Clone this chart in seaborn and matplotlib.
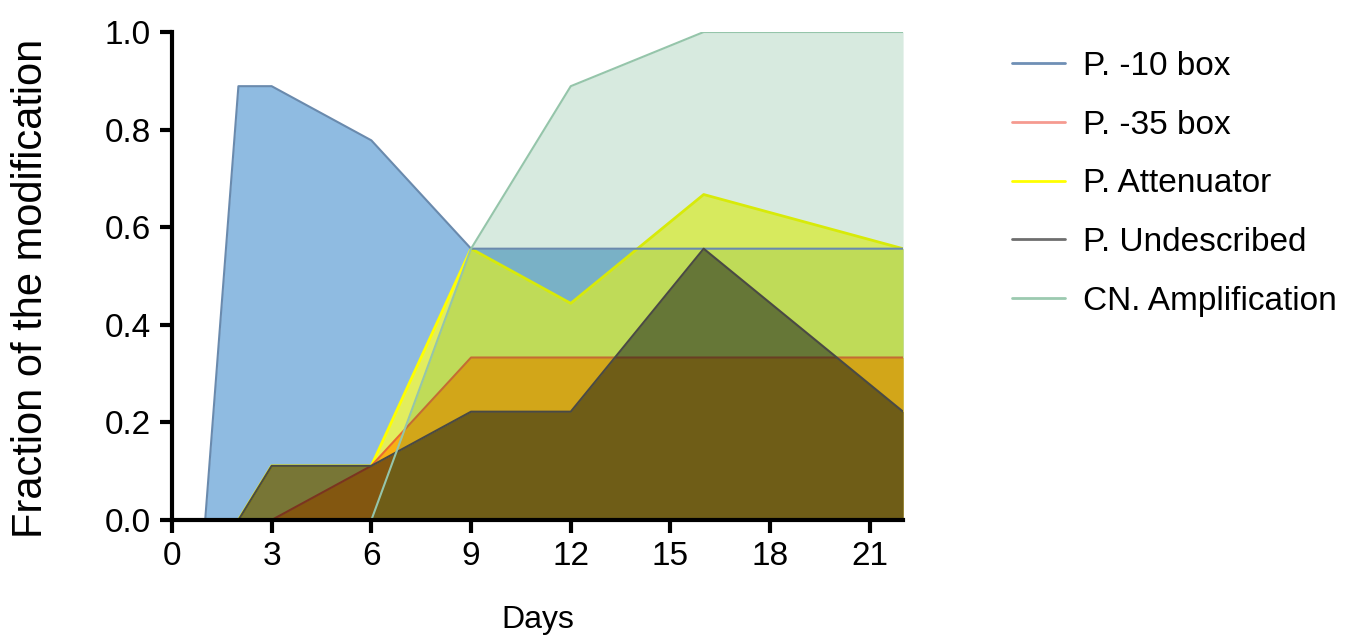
import seaborn as sns
import matplotlib.pyplot as plt
import pandas as pd
import numpy as np
from matplotlib.lines import Line2D
from matplotlib.ticker import FormatStrFormatter

# data (fractions of 9 samples)
days = [1, 2, 3, 6, 9, 12, 16, 22]
p10_box = [0.0, 0.889, 0.889, 0.778, 0.556, 0.556, 0.556, 0.556]
p35_box = [0.0, 0.0, 0.0, 0.111, 0.333, 0.333, 0.333, 0.333]
p_attenuator = [0.0, 0.0, 0.111, 0.111, 0.556, 0.444, 0.667, 0.556]
p_undescribed = [0.0, 0.0, 0.111, 0.111, 0.222, 0.222, 0.556, 0.222]
cn_amplification = [0.0, 0.0, 0.0, 0.0, 0.556, 0.889, 1.0, 1.0]

labels = ["P. -10 box", "P. -35 box", "P. Attenuator", "P. Undescribed", "CN. Amplification"]

df = pd.DataFrame({"Days": days, "P. -10 box": p10_box, "P. -35 box": p35_box,
                   "P. Attenuator": p_attenuator, "P. Undescribed": p_undescribed,
                   "CN. Amplification": cn_amplification})

sns.set_theme(style="ticks")
plt.rcParams['font.family'] = ['Liberation Sans', 'DejaVu Sans']
plt.rcParams['text.color'] = 'black'
plt.rcParams['axes.labelcolor'] = 'black'
plt.rcParams['xtick.color'] = 'black'
plt.rcParams['ytick.color'] = 'black'

fig = plt.figure(figsize=(13.56, 6.39), dpi=100)
ax = fig.add_axes([0.1268, 0.1862, 0.666 - 0.1268, 0.9499 - 0.1862])

# fill colour, fill alpha, line colour, legend colour, fill zorder, line width, line zorder
styles = {
    "P. -10 box": ("#8fbbe1", 1.0, "#6a8aad", "#6f8fb5", 1, 1.5, 11),
    "P. Attenuator": ("#ffff32", 0.75, "#ffff00", "#ffff00", 2, 2.0, 2.5),
    "P. -35 box": ("#ffa000", 0.8, "#e86a30", "#f59a90", 3, 1.5, 3.5),
    "P. Undescribed": ("#0f000f", 0.5, "#4a4a44", "#6e6e6e", 4, 1.5, 14),
    "CN. Amplification": ("#0c7d3e", 0.16, "#95c5aa", "#9ccab0", 5, 1.5, 15),
}

for name in ["P. -10 box", "P. Attenuator", "P. -35 box", "P. Undescribed", "CN. Amplification"]:
    fc, fa, lc, _, z, lw, lz = styles[name]
    ax.fill_between(df["Days"], 0, df[name], color=fc, alpha=fa, linewidth=0, zorder=z)
    sns.lineplot(data=df, x="Days", y=name, ax=ax, color=lc, linewidth=lw, zorder=lz)

ax.set_xlim(0, 22)
ax.set_ylim(0, 1.0)
ax.set_xticks(np.arange(0, 22, 3))
ax.set_yticks(np.arange(0, 1.01, 0.2))
ax.yaxis.set_major_formatter(FormatStrFormatter('%.1f'))
ax.tick_params(axis='both', labelsize=24, width=3, length=9, color='black', pad=6)
for s in ['left', 'bottom']:
    ax.spines[s].set_linewidth(3)
    ax.spines[s].set_color('black')
    ax.spines[s].set_zorder(20)
sns.despine(ax=ax)
ax.set_xlabel("Days", fontsize=23, labelpad=24)
ax.set_ylabel("Fraction of the modification", fontsize=30)
ax.yaxis.set_label_coords(-0.165, 0.475)

handles = [Line2D([0], [0], color=styles[n][3], linewidth=2) for n in labels]
fig.legend(handles, labels, loc='upper left', bbox_to_anchor=(0.746, 0.92), frameon=False,
           borderpad=0, borderaxespad=0,
           fontsize=24, handlelength=1.6, handletextpad=0.55, labelspacing=0.83)

fig.savefig("out.png", dpi=100)
